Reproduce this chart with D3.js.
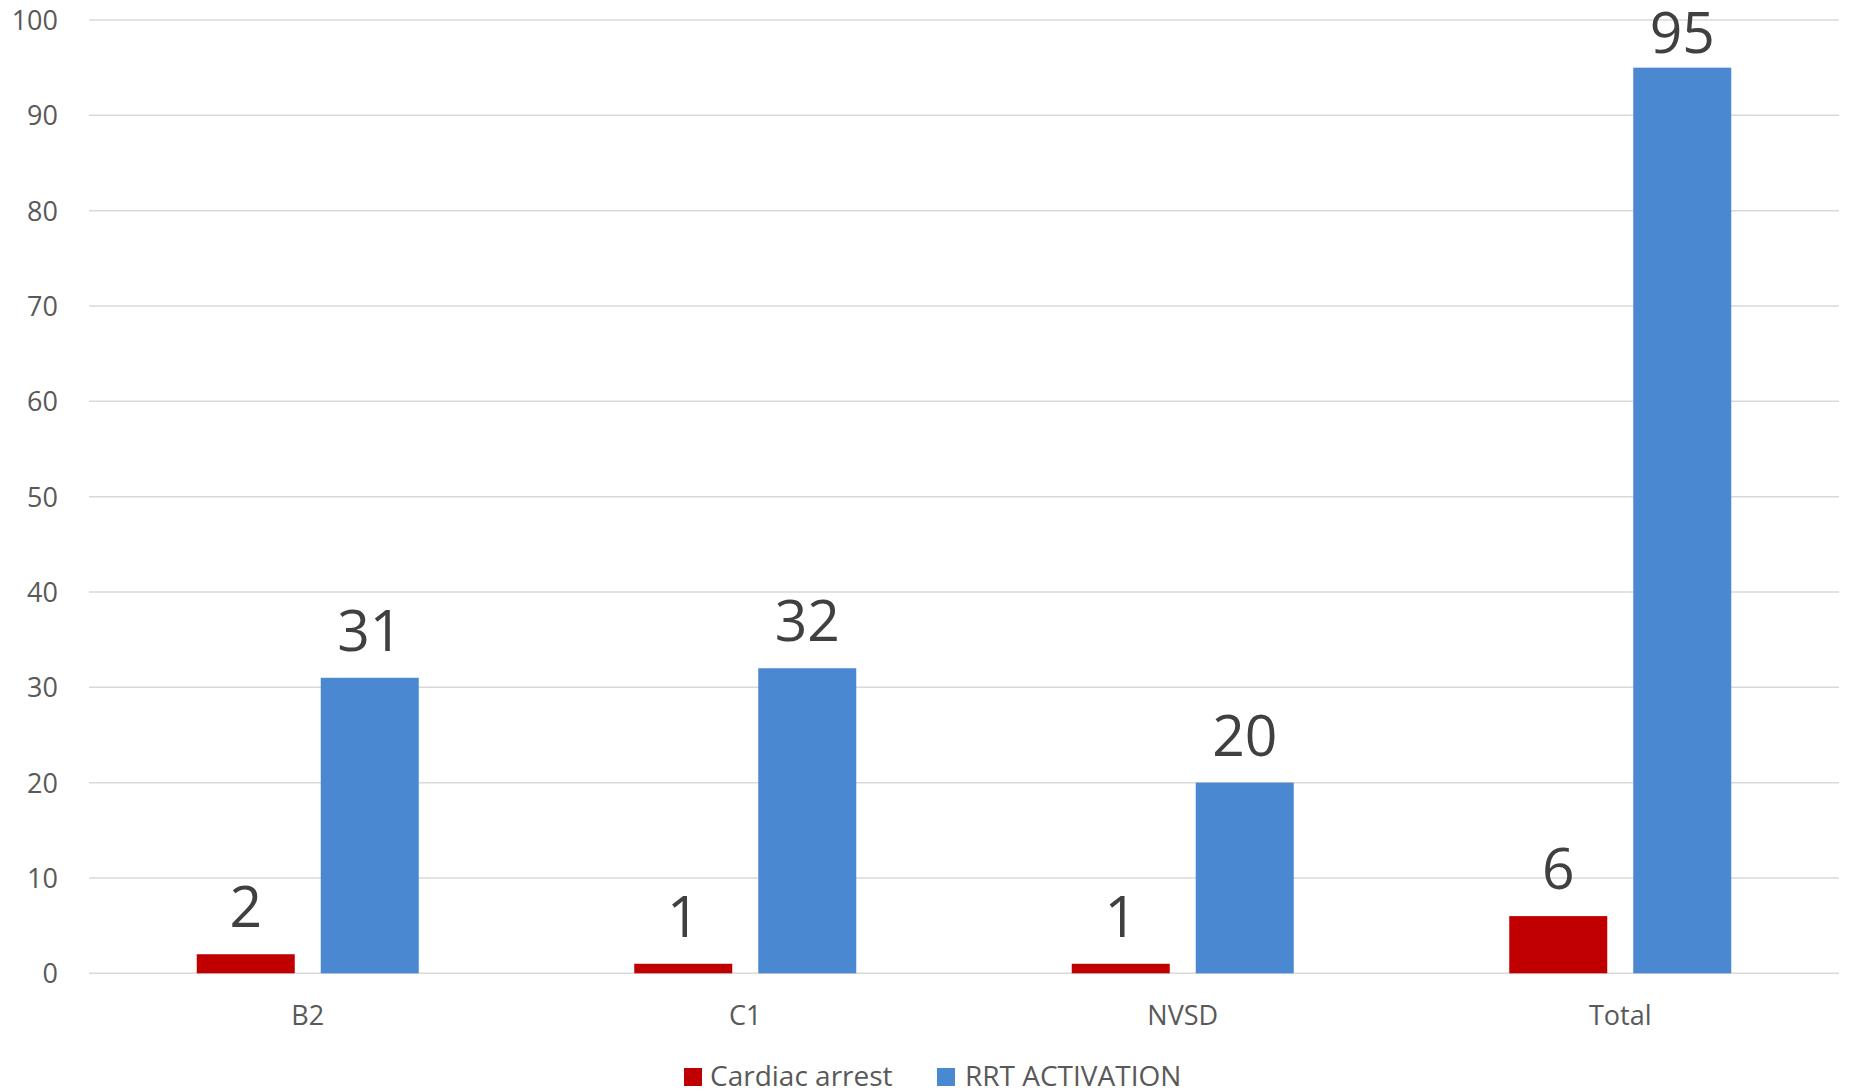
<!DOCTYPE html>
<html><head><meta charset="utf-8">
<script src="https://cdn.jsdelivr.net/npm/d3@7"></script>
<style>body{margin:0;background:#fff;font-family:"Open Sans",sans-serif;}</style>
</head><body><svg id="c" width="1849" height="1092"></svg>
<script>
const categories = ["B2", "C1", "NVSD", "Total"];
const seriesNames = ["Cardiac arrest", "RRT ACTIVATION"];
const cardiacArrest = [2, 1, 1, 6];
const rrtActivation = [31, 32, 20, 95];
const yTicks = [0, 10, 20, 30, 40, 50, 60, 70, 80, 90, 100];
const colors = ["#c00000", "#4a89d2"];

(function () {
const svg = d3.select("#c");
const pLeft = 89, pRight = 1839, pTop = 20, pBottom = 973.3;
const x = d3.scaleBand().domain(categories).range([pLeft, pRight]).paddingInner(0).paddingOuter(0);
const y = d3.scaleLinear().domain([0, 100]).range([pBottom, pTop]);
const barW = 98, gap = 26;
const x1 = d3.scaleBand().domain(seriesNames).range([0, barW * 2 + gap]).paddingInner(gap / (barW + gap)).paddingOuter(0);

// gridlines
svg.append("g").selectAll("line").data(yTicks).join("line")
  .attr("x1", pLeft).attr("x2", pRight)
  .attr("y1", d => y(d)).attr("y2", d => y(d))
  .attr("stroke", "#d9d9d9").attr("stroke-width", 1.5);

// y axis labels
const yAxis = d3.axisLeft(y).tickValues(yTicks).tickSize(0).tickPadding(0);
const ya = svg.append("g").attr("transform", "translate(58,0)").call(yAxis);
ya.select(".domain").remove();
ya.selectAll("text").attr("font-size", 27).attr("fill", "#595959").attr("font-family", "Open Sans").attr("dy", "0.35em");

// x axis labels
const xAxis = d3.axisBottom(x).tickSize(0).tickPadding(0);
const xa = svg.append("g").attr("transform", "translate(0,1025)").call(xAxis);
xa.select(".domain").remove();
xa.selectAll("text").attr("font-size", 27).attr("fill", "#595959").attr("font-family", "Open Sans").attr("dy", 0);

const series = [cardiacArrest, rrtActivation];
const groupOffset = (x.bandwidth() - (barW * 2 + gap)) / 2;
series.forEach((vals, si) => {
  const g = svg.append("g");
  g.selectAll("rect").data(vals).join("rect")
    .attr("x", (d, i) => x(categories[i]) + groupOffset + x1(seriesNames[si]))
    .attr("width", x1.bandwidth())
    .attr("y", d => y(d))
    .attr("height", d => y(0) - y(d))
    .attr("fill", colors[si]);
  g.selectAll("text").data(vals).join("text")
    .attr("x", (d, i) => x(categories[i]) + groupOffset + x1(seriesNames[si]) + x1.bandwidth() / 2)
    .attr("y", d => Math.max(y(d) - 27, 53))
    .attr("text-anchor", "middle")
    .attr("font-size", 57).attr("fill", "#404040").attr("font-family", "Open Sans")
    .text(d => d);
});

// legend
const legend = svg.append("g");
const legendPos = [{x: 684, tx: 710}, {x: 937, tx: 965}];
seriesNames.forEach((n, i) => {
  legend.append("rect").attr("x", legendPos[i].x).attr("y", 1068).attr("width", 18).attr("height", 18).attr("fill", colors[i]);
  legend.append("text").attr("x", legendPos[i].tx).attr("y", 1086)
    .attr("font-size", 28).attr("fill", "#595959").attr("font-family", "Open Sans").text(n);
});
})();
</script></body></html>
